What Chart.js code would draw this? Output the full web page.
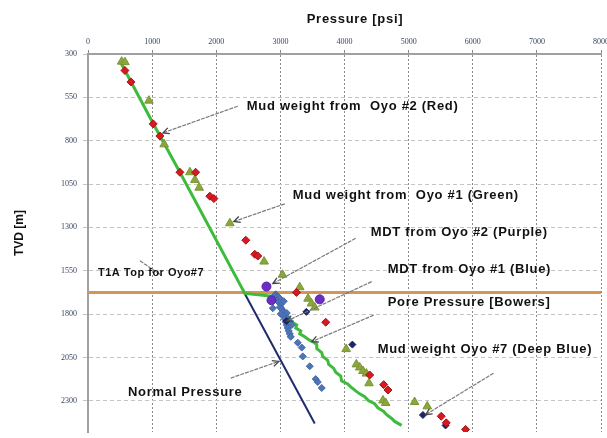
<!DOCTYPE html>
<html>
<head>
<meta charset="utf-8">
<title>Pressure vs TVD</title>
<script src="https://cdn.jsdelivr.net/npm/chart.js@4.4.1/dist/chart.umd.min.js"></script>
<style>
  html, body { margin: 0; padding: 0; background: #fff; overflow: hidden; }
  #wrap { width: 607px; height: 438px; }
</style>
</head>
<body>
<div id="wrap"><canvas id="chart" width="607" height="438"></canvas></div>
<script>
// --- Datos (presion en psi, profundidad TVD en m) ---
const xTicks = [0, 1000, 2000, 3000, 4000, 5000, 6000, 7000, 8000];
const yTicks = [300, 550, 800, 1050, 1300, 1550, 1800, 2050, 2300];

// Mud weight from Oyo #2 (Red)
const redP = [576, 670, 1017, 1121, 1433, 1678, 1900, 1963, 2461, 2601, 2648, 3251, 3707, 4393, 4611, 4678, 5509, 5587, 5888];
const redD = [395, 461, 703, 773, 982, 982, 1120, 1134, 1374, 1455, 1465, 1675, 1847, 2151, 2207, 2238, 2389, 2427, 2465];

// Mud weight from Oyo #1 (Green)
const oliveP = [525, 576, 950, 1188, 1589, 1667, 1734, 2212, 2746, 3033, 3302, 3432, 3485, 3536, 4026, 4185, 4237, 4288, 4341, 4382, 4600, 4642, 5093, 5291];
const oliveD = [344, 347, 569, 821, 982, 1026, 1071, 1276, 1497, 1573, 1645, 1711, 1739, 1762, 2002, 2090, 2108, 2128, 2143, 2199, 2298, 2313, 2307, 2332];

// MDT from Oyo #2 (Purple)
const purpleP = [2783, 2861, 3614];
const purpleD = [1641, 1720, 1715];

// MDT from Oyo #1 (Blue)
const blueP = [2928, 2913, 2960, 2991, 2944, 2975, 3006, 3053, 2991, 3022, 3037, 3100, 3006, 3053, 3069, 3131, 3084, 3100, 3178, 3115, 3131, 3146, 3162, 2882, 3271, 3333, 3349, 3458, 3551, 3583, 3645];
const blueD = [1686, 1692, 1698, 1709, 1720, 1732, 1743, 1726, 1760, 1772, 1789, 1794, 1800, 1811, 1828, 1834, 1845, 1863, 1863, 1880, 1897, 1914, 1931, 1766, 1965, 1993, 2044, 2101, 2175, 2192, 2226];

// Mud weight Oyo #7 (Deep Blue)
const navyP = [3405, 3095, 4123, 5223, 5576];
const navyD = [1787, 1840, 1976, 2382, 2442];

// Pore Pressure [Bowers]
const boweP = [498, 1012, 1433, 2445, 2950, 3080, 3173, 3255, 3240, 3318, 3302, 3380, 3442, 3505, 3567, 3567, 3645, 3660, 3738, 3754, 3832, 3863, 3941, 3956, 4050, 4097, 4174, 4237, 4315, 4377, 4470, 4517, 4611, 4657, 4735, 4782, 4891];
const boweD = [340, 698, 982, 1681, 1700, 1790, 1845, 1863, 1880, 1897, 1914, 1931, 1948, 1959, 1976, 1999, 2022, 2044, 2067, 2090, 2113, 2135, 2158, 2186, 2203, 2220, 2243, 2260, 2277, 2300, 2317, 2340, 2362, 2380, 2402, 2419, 2442];

// Normal Pressure
const normalP = [2420, 3536];
const normalD = [1665, 2431];

// T1A Top for Oyo#7
const topP = [0, 8000];
const topD = [1675, 1675];

// --- Anotaciones (texto y flechas, en unidades del grafico) ---
const notas = [
    { text: 'Mud weight from  Oyo #2 (Red)', p: 2477, d: 601, size: 13, from: [2336, 601], to: [1168, 755] },
    { text: 'Mud weight from  Oyo #1 (Green)', p: 3193, d: 1118, size: 13, from: [3069, 1164], to: [2274, 1266] },
    { text: 'MDT from Oyo #2 (Purple)', p: 4408, d: 1328, size: 13, from: [4174, 1363], to: [2882, 1624] },
    { text: 'MDT from Oyo #1 (Blue)', p: 4673, d: 1544, size: 13, from: [4424, 1613], to: [3100, 1840] },
    { text: 'T1A Top for Oyo#7', p: 156, d: 1561, size: 11, from: [810, 1493], to: [1153, 1578], noHead: true },
    { text: 'Pore Pressure [Bowers]', p: 4673, d: 1732, size: 13, from: [4455, 1806], to: [3489, 1959] },
    { text: 'Mud weight Oyo #7 (Deep Blue)', p: 4517, d: 2005, size: 13, from: [6324, 2141], to: [5265, 2380] },
    { text: 'Normal Pressure', p: 623, d: 2249, size: 13, from: [2227, 2169], to: [2975, 2073] }
];

function puntos(px, dy) {
    return px.map((v, i) => ({ x: v, y: dy[i] }));
}

// --- Plugin para titulos y anotaciones ---
const notasPlugin = {
    id: 'notas',
    afterDatasetsDraw(chart) {
        const { ctx, scales: { x, y } } = chart;
        ctx.save();
        ctx.fillStyle = '#111';
        ctx.textBaseline = 'middle';

        // Flechas
        notas.forEach(n => {
            const x1 = x.getPixelForValue(n.from[0]);
            const y1 = y.getPixelForValue(n.from[1]);
            const x2 = x.getPixelForValue(n.to[0]);
            const y2 = y.getPixelForValue(n.to[1]);
            ctx.strokeStyle = '#7a7a7a';
            ctx.lineWidth = 1.2;
            ctx.setLineDash([4, 1]);
            ctx.beginPath();
            ctx.moveTo(x1, y1);
            ctx.lineTo(x2, y2);
            ctx.stroke();
            ctx.setLineDash([]);
            if (!n.noHead) {
                const ang = Math.atan2(y2 - y1, x2 - x1);
                const len = 7;
                ctx.strokeStyle = '#444';
                ctx.lineWidth = 1.3;
                ctx.beginPath();
                ctx.moveTo(x2 - len * Math.cos(ang - 0.45), y2 - len * Math.sin(ang - 0.45));
                ctx.lineTo(x2, y2);
                ctx.lineTo(x2 - len * Math.cos(ang + 0.45), y2 - len * Math.sin(ang + 0.45));
                ctx.stroke();
            }
        });

        // Textos
        ctx.textAlign = 'left';
        notas.forEach(n => {
            ctx.font = `bold ${n.size}px "Liberation Sans", Arial, sans-serif`;
            ctx.letterSpacing = n.size > 12 ? '0.7px' : '0.5px';
            ctx.fillText(n.text, x.getPixelForValue(n.p), y.getPixelForValue(n.d));
        });

        // Titulos de los ejes
        ctx.font = 'bold 13px "Liberation Sans", Arial, sans-serif';
        ctx.letterSpacing = '0.7px';
        ctx.textAlign = 'center';
        ctx.fillText('Pressure [psi]', 355, 19);

        ctx.translate(20, 233);
        ctx.rotate(-Math.PI / 2);
        ctx.font = 'bold 12px "Liberation Sans", Arial, sans-serif';
        ctx.letterSpacing = '0px';
        ctx.fillText('TVD [m]', 0, 0);
        ctx.restore();
    }
};

const tickFont = { family: '"Liberation Serif", serif', size: 8 };
const sinComa = (v) => String(v);

const chart = new Chart(document.getElementById('chart'), {
    type: 'scatter',
    data: {
        datasets: [
            {
                label: 'Mud weight from Oyo #2 (Red)',
                data: puntos(redP, redD),
                pointStyle: 'rectRot',
                pointRadius: 4,
                backgroundColor: '#d8191f',
                borderColor: '#a3141a',
                borderWidth: 1
            },
            {
                label: 'Mud weight from Oyo #1 (Green)',
                data: puntos(oliveP, oliveD),
                pointStyle: 'triangle',
                pointRadius: 5,
                backgroundColor: '#8aa63c',
                borderColor: '#7a9634',
                borderWidth: 1
            },
            {
                label: 'Mud weight Oyo #7 (Deep Blue)',
                data: puntos(navyP, navyD),
                pointStyle: 'rectRot',
                pointRadius: 3.5,
                backgroundColor: '#1d2466',
                borderColor: '#1d2466',
                borderWidth: 1
            },
            {
                label: 'MDT from Oyo #2 (Purple)',
                data: puntos(purpleP, purpleD),
                pointStyle: 'circle',
                pointRadius: 4.5,
                backgroundColor: '#6a2fc2',
                borderColor: '#5a24a8',
                borderWidth: 1
            },
            {
                label: 'MDT from Oyo #1 (Blue)',
                data: puntos(blueP, blueD),
                pointStyle: 'rectRot',
                pointRadius: 3.5,
                backgroundColor: '#4d74b6',
                borderColor: '#4368a8',
                borderWidth: 1
            },
            {
                label: 'Pore Pressure [Bowers]',
                data: puntos(boweP, boweD),
                showLine: true,
                pointRadius: 0,
                borderColor: '#3dbb3d',
                borderWidth: 3,
                tension: 0
            },
            {
                label: 'Normal Pressure',
                data: puntos(normalP, normalD),
                showLine: true,
                pointRadius: 0,
                borderColor: '#1f2b6c',
                borderWidth: 2
            },
            {
                label: 'T1A Top for Oyo#7',
                data: puntos(topP, topD),
                showLine: true,
                pointRadius: 0,
                borderColor: '#d49556',
                borderWidth: 3
            }
        ]
    },
    options: {
        responsive: false,
        animation: false,
        layout: { padding: { top: 0, left: 0, right: 5, bottom: 0 } },
        plugins: {
            legend: { display: false },
            tooltip: { enabled: false }
        },
        scales: {
            x: {
                type: 'linear',
                position: 'top',
                min: 0,
                max: 8000,
                afterBuildTicks: (s) => { s.ticks = xTicks.map(v => ({ value: v })); },
                afterFit: (s) => { s.height = 54; s.paddingLeft = 0; s.paddingRight = 0; },
                ticks: { font: tickFont, color: '#3b4460', padding: 3, maxRotation: 0, autoSkip: false, callback: sinComa },
                grid: { color: '#8a8a8a', tickLength: 4, lineWidth: 1 },
                border: { display: true, color: '#a0a0a0', width: 2, dash: [2, 2] }
            },
            y: {
                type: 'linear',
                reverse: true,
                min: 300,
                max: 2480,
                afterBuildTicks: (s) => { s.ticks = yTicks.map(v => ({ value: v })); },
                afterFit: (s) => { s.width = 88; s.paddingTop = 0; s.paddingBottom = 0; },
                ticks: { font: tickFont, color: '#3b4460', padding: 6, autoSkip: false, callback: sinComa },
                grid: { color: '#c4c4c4', tickLength: 5, lineWidth: 1 },
                border: { display: true, color: '#a0a0a0', width: 2, dash: [4, 3] }
            }
        }
    },
    plugins: [notasPlugin]
});
</script>
</body>
</html>
